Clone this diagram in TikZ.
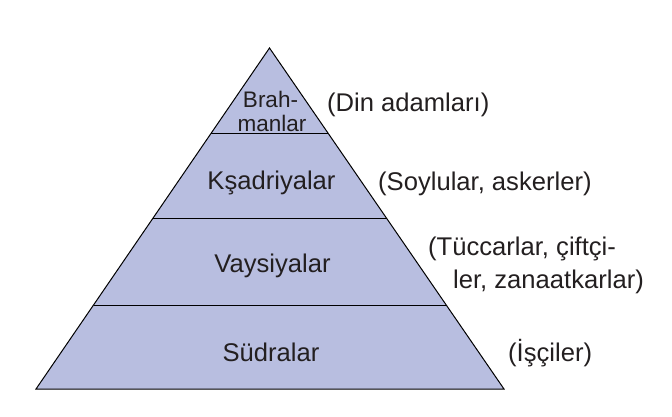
\documentclass[tikz,border=0pt]{standalone}
\usepackage{fontspec}
\setmainfont{Liberation Sans}
\usetikzlibrary{calc}
\definecolor{pyrfill}{HTML}{B8BEE0}
\definecolor{txt}{HTML}{231F20}
\begin{document}
\begin{tikzpicture}[x=1pt,y=-1pt,
  lbl/.style={anchor=base,inner sep=0pt,text=txt,font=\fontsize{25.6}{30}\selectfont},
  lblw/.style={anchor=base west,inner sep=0pt,text=txt,font=\fontsize{25.6}{30}\selectfont},
  small/.style={anchor=base,inner sep=0pt,text=txt,font=\fontsize{22.5}{26}\selectfont},
  edge/.style={draw=black,line width=1pt,line join=miter}]
\useasboundingbox (0,0) rectangle (672,416);
\coordinate (apex) at (269.5,48);
\coordinate (bl) at (36,389);
\coordinate (br) at (504,389);
\fill[pyrfill] (apex) -- (br) -- (bl) -- cycle;
\coordinate (l1) at ($(apex)!0.2507!(bl)$);
\coordinate (r1) at ($(apex)!0.2507!(br)$);
\coordinate (l2) at ($(apex)!0.5007!(bl)$);
\coordinate (r2) at ($(apex)!0.5007!(br)$);
\coordinate (l3) at ($(apex)!0.7537!(bl)$);
\coordinate (r3) at ($(apex)!0.7537!(br)$);
\draw[edge] (l1) -- (r1);
\draw[edge] (l2) -- (r2);
\draw[edge] (l3) -- (r3);
\draw[edge] (apex) -- (br) -- (bl) -- cycle;
\node[small] (brah) at (270.5,107) {Brah-};
\node[small] (manlar) at (272,131.5) {manlar};
\node[lbl] (ksa) at (271.5,189) {Kşadriyalar};
\node[lbl] (vay) at (272.5,272) {Vaysiyalar};
\node[lbl] (sud) at (271,361) {Südralar};
\node[lblw] (din) at (327,111) {(Din adamları)};
\node[lblw] (soy) at (378,190) {(Soylular, askerler)};
\node[lblw] (tuc) at (428,255) {(Tüccarlar, çiftçi-};
\node[lblw] (zan) at (453,288) {ler, zanaatkarlar)};
\node[lblw] (isc) at (508,361) {(İşçiler)};
\end{tikzpicture}
\end{document}
